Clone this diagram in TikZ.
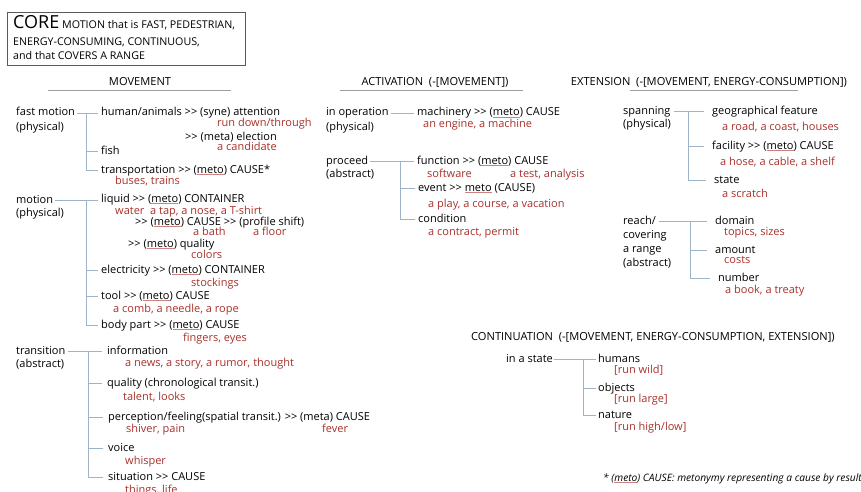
\documentclass[tikz,border=0pt]{standalone}
\usepackage{fontspec}
\setmainfont{Open Sans}
\definecolor{exred}{RGB}{168,48,42}
\definecolor{lineblue}{RGB}{158,180,200}
\definecolor{ulred}{RGB}{205,130,130}
\definecolor{boxgray}{RGB}{90,90,90}
\newcommand\ulmeto[1]{\setbox0\hbox{#1}\rlap{\color{ulred}\rule[-1.6pt]{\wd0}{0.5pt}}\box0\relax}
\newcommand\gtgt{>\kern0pt>}
\begin{document}
\begin{tikzpicture}[x=1pt,y=-1pt,
  txt/.style={anchor=base west,inner sep=0,font=\fontsize{11}{12}\selectfont,text height=7.5pt,text depth=2pt},
  ex/.style={txt,text=exred},
  hdr/.style={anchor=base,inner sep=0,font=\fontsize{11.1}{12}\selectfont},
  conn/.style={draw=lineblue,line width=0.6pt},
  hline/.style={draw=gray!75,line width=0.7pt}]
\useasboundingbox (0,0) rectangle (861,492);
% core box
\node[draw=boxgray,line width=0.8pt,anchor=north west,minimum width=238pt,minimum height=53pt,inner sep=0] (corebox) at (7,12) {};
\node[txt,font=\fontsize{10.7}{12}\selectfont] (b1) at (13,29) {{\fontsize{18}{17}\selectfont CORE} MOTION that is FAST, PEDESTRIAN,};
\node[txt,font=\fontsize{10.7}{12}\selectfont] (b2) at (13,46) {ENERGY-CONSUMING, CONTINUOUS,};
\node[txt,font=\fontsize{10.7}{12}\selectfont] (b3) at (13,60) {and that COVERS A RANGE};
% headers
\node[hdr] (hmov) at (140,86) {MOVEMENT};
\coordinate (hm1) at (48,90); \coordinate (hm2) at (231,90);
\draw[hline] (hm1) -- (hm2);
\node[hdr] (hact) at (435,86) {ACTIVATION\ \ (-[MOVEMENT])};
\coordinate (ha1) at (340,90); \coordinate (ha2) at (523,90);
\draw[hline] (ha1) -- (ha2);
\node[hdr] (hext) at (709,86) {EXTENSION\ \ (-[MOVEMENT, ENERGY-CONSUMPTION])};
\coordinate (he1) at (630,90); \coordinate (he2) at (798,90);
\draw[hline] (he1) -- (he2);
\node[txt,font=\fontsize{11.1}{12}\selectfont] (hcont) at (471,340) {CONTINUATION\ \ (-[MOVEMENT, ENERGY-CONSUMPTION, EXTENSION])};
% ---- fast motion
\coordinate (xa) at (86,0);
\node[txt] (fm) at (16,116) {fast motion};
\node[txt] (fm2) at (16,130) {(physical)};
\node[txt] (hum) at (101,116) {human/animals \gtgt{} (syne) attention};
\node[ex] (hume) at (217,127) {run down/through};
\node[txt] (elect) at (185,140) {\gtgt{} (meta) election};
\node[ex] (cand) at (217,150) {a candidate};
\node[txt] (fish) at (101,154) {fish};
\node[txt] (trans) at (101,173) {transportation \gtgt{} (\ulmeto{meto}) CAUSE*};
\node[ex] (buses) at (115,184) {buses, trains};
\draw[conn] ([xshift=2pt]fm.east) -- ([xshift=-3pt]hum.west);
\draw[conn] (fm.east -| xa) |- ([xshift=-3pt]trans.west);
\draw[conn] (fish.west -| xa) -- ([xshift=-3pt]fish.west);
% ---- motion
\node[txt] (mo) at (16,203) {motion};
\node[txt] (mo2) at (16,216) {(physical)};
\node[txt] (liq) at (101,202) {liquid \gtgt{} (\ulmeto{meto}) CONTAINER};
\node[ex] (water) at (115,214) {water};
\node[ex] (tap) at (150,214) {a tap, a nose, a T-shirt};
\node[txt] (cause) at (135,225) {\gtgt{} (\ulmeto{meto}) CAUSE \gtgt{} (profile shift)};
\node[ex] (bath) at (193,235) {a bath};
\node[ex] (floor) at (253,235) {a floor};
\node[txt] (qual) at (128,247) {\gtgt{} (\ulmeto{meto}) quality};
\node[ex] (colors) at (191,258) {colors};
\node[txt] (elc) at (101,273) {electricity \gtgt{} (\ulmeto{meto}) CONTAINER};
\node[ex] (stock) at (191,286) {stockings};
\node[txt] (tool) at (101,299) {tool \gtgt{} (\ulmeto{meto}) CAUSE};
\node[ex] (comb) at (113,312) {a comb, a needle, a rope};
\node[txt] (body) at (101,328) {body part \gtgt{} (\ulmeto{meto}) CAUSE};
\node[ex] (fing) at (183,341) {fingers, eyes};
\draw[conn] ([xshift=2pt]mo.east) -- ([xshift=-3pt]liq.west |- mo.east);
\draw[conn] (mo.east -| xa) |- ([xshift=-3pt]body.west);
\draw[conn] (elc.west -| xa) -- ([xshift=-3pt]elc.west);
\draw[conn] (tool.west -| xa) -- ([xshift=-3pt]tool.west);
% ---- transition
\coordinate (xb) at (88,0);
\node[txt] (tr) at (16,354) {transition};
\node[txt] (tr2) at (16,367) {(abstract)};
\node[txt] (info) at (107,354) {information};
\node[ex] (news) at (125,366) {a news, a story, a rumor, thought};
\node[txt] (qchr) at (107,386) {quality (chronological transit.)};
\node[ex] (tal) at (123,400) {talent, looks};
\node[txt] (perc) at (108,420) {perception/feeling(spatial transit.) \gtgt{} (meta) CAUSE};
\node[ex] (shiv) at (126,432) {shiver, pain};
\node[ex] (fever) at (322,432) {fever};
\node[txt] (voice) at (108,451) {voice};
\node[ex] (whis) at (125,464) {whisper};
\node[txt] (sit) at (108,480) {situation \gtgt{} CAUSE};
\node[ex] (things) at (125,493) {things, life};
\draw[conn] ([xshift=2pt]tr.east) -- ([xshift=-5pt]info.west);
\draw[conn] (tr.east -| xb) |- ([xshift=-5pt]sit.west);
\draw[conn] (qchr.west -| xb) -- ([xshift=-5pt]qchr.west);
\draw[conn] (perc.west -| xb) -- ([xshift=-5pt]perc.west);
\draw[conn] (voice.west -| xb) -- ([xshift=-5pt]voice.west);
% ---- activation
\coordinate (xc) at (400,0);
\node[txt] (io) at (326,116) {in operation};
\node[txt] (io2) at (326,130) {(physical)};
\node[txt] (mach) at (417,116) {machinery \gtgt{} (\ulmeto{meto}) CAUSE};
\node[ex] (eng) at (423,128) {an engine, a machine};
\draw[conn] ([xshift=2pt]io.east) -- ([xshift=-3pt]mach.west);
\node[txt] (pr) at (326,164) {proceed};
\node[txt] (pr2) at (326,177) {(abstract)};
\node[txt] (func) at (417,164) {function \gtgt{} (\ulmeto{meto}) CAUSE};
\node[ex] (soft) at (427,177) {software};
\node[ex] (test) at (510,177) {a test, analysis};
\node[txt] (event) at (418,191) {event \gtgt{} \ulmeto{meto} (CAUSE)};
\node[ex] (play) at (428,207) {a play, a course, a vacation};
\node[txt] (cond) at (418,222) {condition};
\node[ex] (contr) at (428,235) {a contract, permit};
\draw[conn] ([xshift=2pt]pr.east) -- ([xshift=-3pt]func.west);
\draw[conn] (pr.east -| xc) |- ([xshift=-3pt]cond.west);
\draw[conn] (event.west -| xc) -- ([xshift=-3pt]event.west);
% ---- extension
\coordinate (xd) at (688,0);
\node[txt] (sp) at (623,114) {spanning};
\node[txt] (sp2) at (623,128) {(physical)};
\node[txt] (geo) at (712,114) {geographical feature};
\node[ex] (road) at (722,130) {a road, a coast, houses};
\node[txt] (fac) at (712,149) {facility \gtgt{} (\ulmeto{meto}) CAUSE};
\node[ex] (hose) at (720,165) {a hose, a cable, a shelf};
\node[txt] (state) at (714,183) {state};
\node[ex] (scr) at (722,197) {a scratch};
\draw[conn] ([xshift=3pt]sp.east) -- ([xshift=-8pt]geo.west);
\draw[conn] (sp.east -| xd) |- ([xshift=-8pt]state.west);
\draw[conn] (fac.west -| xd) -- ([xshift=-8pt]fac.west);
\coordinate (xe) at (690,0);
\node[txt] (re) at (623,224) {reach/};
\node[txt] (re2) at (623,238) {covering};
\node[txt] (re3) at (623,252) {a range};
\node[txt] (re4) at (623,266) {(abstract)};
\node[txt] (dom) at (715,224) {domain};
\node[ex] (top) at (724,235) {topics, sizes};
\node[txt] (amt) at (715,253) {amount};
\node[ex] (costs) at (724,263) {costs};
\node[txt] (num) at (718,281) {number};
\node[ex] (book) at (725,293) {a book, a treaty};
\draw[conn] ([xshift=3pt]re.east) -- ([xshift=-8pt]dom.west);
\draw[conn] (re.east -| xe) |- ([xshift=-8pt]num.west);
\draw[conn] (amt.west -| xe) -- ([xshift=-8pt]amt.west);
% ---- continuation
\coordinate (xf) at (583,0);
\node[txt] (st) at (506,362) {in a state};
\node[txt] (hu) at (598,362) {humans};
\node[ex] (rw) at (614,373) {[run wild]};
\node[txt] (ob) at (598,391) {objects};
\node[ex] (rl) at (614,402) {[run large]};
\node[txt] (na) at (598,418) {nature};
\node[ex] (rh) at (614,430) {[run high/low]};
\draw[conn] ([xshift=1pt]st.east) -- ([xshift=-2pt]hu.west);
\draw[conn] (st.east -| xf) |- ([xshift=-2pt]na.west);
\draw[conn] (ob.west -| xf) -- ([xshift=-2pt]ob.west);
% footnote
\node[txt,font=\fontsize{10.2}{11}\selectfont\itshape] (foot) at (603,481) {* (\ulmeto{meto}) CAUSE: metonymy representing a cause by result};
\end{tikzpicture}
\end{document}
